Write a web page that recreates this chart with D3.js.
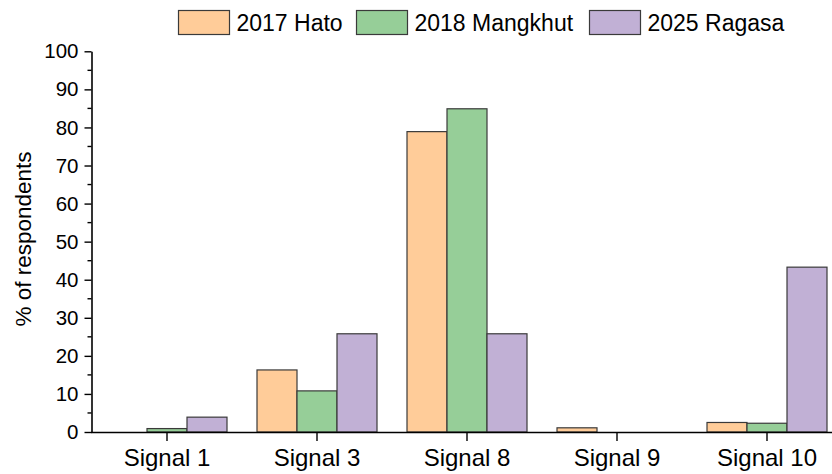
<!DOCTYPE html>
<html><head><meta charset="utf-8">
<script src="https://cdn.jsdelivr.net/npm/d3@7"></script>
<style>html,body{margin:0;padding:0;background:#fff;overflow:hidden}</style>
</head><body>
<svg id="chart" width="832" height="474"></svg>
<script>
const categories = ["Signal 1", "Signal 3", "Signal 8", "Signal 9", "Signal 10"];
const seriesNames = ["2017 Hato", "2018 Mangkhut", "2025 Ragasa"];
const hato = [0, 16.3, 78.9, 1.1, 2.5];
const mangkhut = [0.9, 10.8, 84.9, 0, 2.3];
const ragasa = [3.9, 25.8, 25.8, 0, 43.3];
const colors = ["#FFCC99", "#96CE98", "#C1B0D5"];
const yTicks = [0, 10, 20, 30, 40, 50, 60, 70, 80, 90, 100];

const series = [hato, mangkhut, ragasa];
const font = "'Liberation Sans', Arial, sans-serif";
const svg = d3.select("#chart");

const x = d3.scaleBand().domain(categories).range([92, 842]).paddingInner(0.2).paddingOuter(0.1);
const x1 = d3.scaleBand().domain(seriesNames).range([0, x.bandwidth()]);
const y = d3.scaleLinear().domain([0, 100]).range([432, 51.3]);

// bars
const groups = svg.append("g").selectAll("g").data(categories).join("g")
  .attr("transform", d => `translate(${x(d)},0)`);
groups.selectAll("rect")
  .data((c, i) => seriesNames.map((s, j) => ({s, j, v: series[j][i]})).filter(d => d.v > 0))
  .join("rect")
  .attr("x", d => x1(d.s))
  .attr("width", x1.bandwidth())
  .attr("y", d => y(d.v))
  .attr("height", d => y(0) - y(d.v))
  .attr("fill", d => colors[d.j])
  .attr("stroke", "#3a3a3a")
  .attr("stroke-width", 1.2);

// y axis
const yAxis = svg.append("g").attr("transform", "translate(91.5,0)")
  .call(d3.axisLeft(y).tickValues(yTicks).tickSize(7).tickPadding(6).tickSizeOuter(0));
yAxis.selectAll("text").attr("font-family", font).attr("font-size", 20.5).attr("fill", "#000");
yAxis.select(".domain").attr("stroke", "#000").attr("stroke-width", 1.6);
yAxis.selectAll(".tick line").attr("stroke", "#000").attr("stroke-width", 1.4);
// minor ticks
const minor = d3.range(5, 100, 10);
svg.append("g").selectAll("line").data(minor).join("line")
  .attr("x1", 87.5).attr("x2", 91.5)
  .attr("y1", d => y(d)).attr("y2", d => y(d))
  .attr("stroke", "#000").attr("stroke-width", 1.4);

// x axis
const xAxis = svg.append("g").attr("transform", "translate(0,432)")
  .call(d3.axisBottom(x).tickSize(9).tickPadding(8).tickSizeOuter(0));
xAxis.selectAll("text").attr("font-family", font).attr("font-size", 24).attr("fill", "#000");
xAxis.select(".domain").attr("stroke", "#000").attr("stroke-width", 1.6).attr("d", "M91,0.5H842");
xAxis.selectAll(".tick line").attr("stroke", "#000").attr("stroke-width", 1.4);

// y title
svg.append("text")
  .attr("transform", "translate(31,239) rotate(-90)")
  .attr("text-anchor", "middle")
  .attr("font-family", font).attr("font-size", 22.5).attr("fill", "#000")
  .text("% of respondents");

// legend
const legendX = [178.5, 356.5, 589.5];
const lg = svg.append("g").selectAll("g").data(seriesNames).join("g")
  .attr("transform", (d, i) => `translate(${legendX[i]},0)`);
lg.append("rect").attr("x", 0).attr("y", 10.5).attr("width", 51).attr("height", 24)
  .attr("fill", (d, i) => colors[i]).attr("stroke", "#3a3a3a").attr("stroke-width", 1.2);
lg.append("text").attr("x", 58).attr("y", 30.5)
  .attr("font-family", font).attr("font-size", 23).attr("fill", "#000")
  .text(d => d);
</script>
</body></html>
